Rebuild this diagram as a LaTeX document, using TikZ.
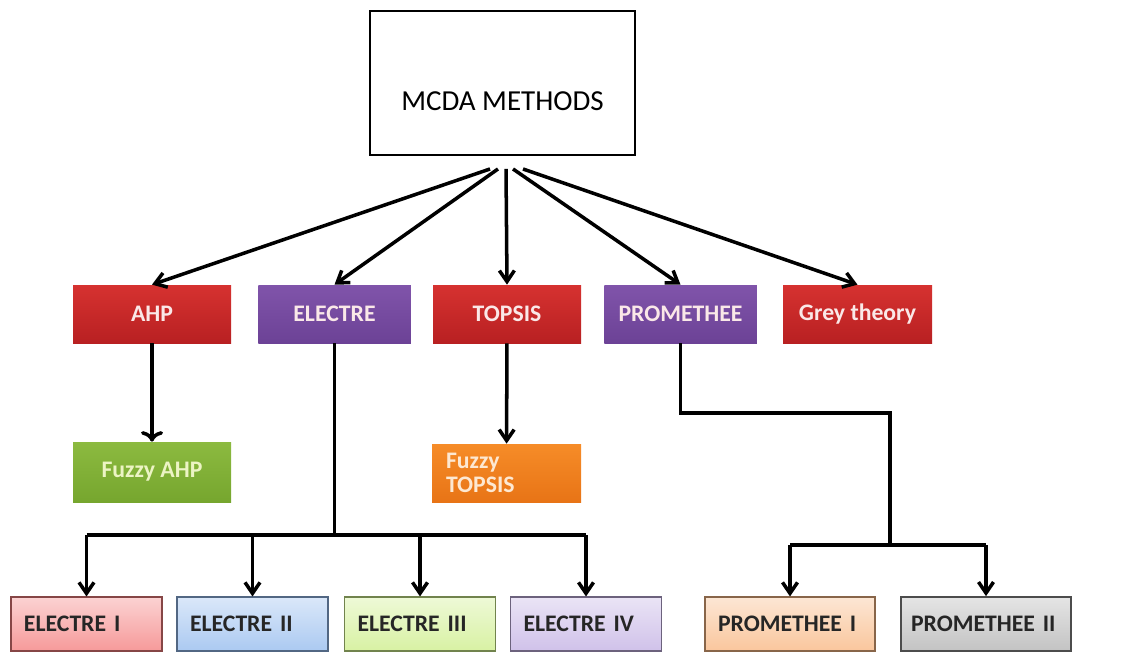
\documentclass[tikz,border=0pt]{standalone}
\usepackage{fontspec}
\setmainfont{Carlito}
\usetikzlibrary{arrows.meta}

\definecolor{redtop}{RGB}{214,50,48}
\definecolor{redbot}{RGB}{184,32,34}
\definecolor{purtop}{RGB}{128,84,170}
\definecolor{purbot}{RGB}{108,66,150}
\definecolor{greentop}{RGB}{140,186,64}
\definecolor{greenbot}{RGB}{118,166,46}
\definecolor{orgtop}{RGB}{246,140,40}
\definecolor{orgbot}{RGB}{232,116,22}
\definecolor{lighttext}{RGB}{250,232,232}
\definecolor{greentext}{RGB}{236,244,196}
\definecolor{orgtext}{RGB}{253,232,210}
\definecolor{epink}{RGB}{244,128,128}
\definecolor{eblue}{RGB}{150,188,238}
\definecolor{egreen}{RGB}{206,238,140}
\definecolor{epurple}{RGB}{196,178,228}
\definecolor{porange}{RGB}{248,184,132}
\definecolor{pgray}{RGB}{180,180,180}

\tikzset{
  arr/.style={-{Straight Barb[length=0.22cm,width=0.3cm]}, line width=2pt},
  link/.style={line width=2pt},
  mainbox/.style={rectangle, font=\bfseries\fontsize{13.5}{16}\selectfont, text=lighttext,
    minimum width=3.05cm, minimum height=1.16cm},
  redbox/.style={mainbox, top color=redtop, bottom color=redbot},
  purbox/.style={mainbox, top color=purtop, bottom color=purbot},
  leafbox/.style={rectangle, draw=#1!55!black, line width=0.6pt, minimum height=1.08cm,
    text width=2.5cm, align=left, inner xsep=0.26cm, text=black!85,
    font=\bfseries\fontsize{13.5}{16}\selectfont,
    top color=#1!35!white, bottom color=#1!80!white}
}

\begin{document}
\begin{tikzpicture}
\useasboundingbox (0,0) rectangle (22.9,-13.12);

% root
\node (mcda) at (10.05,-1.66) [rectangle, draw, line width=1.1pt, minimum width=5.3cm, minimum height=2.88cm] {};
\node (mcdatext) at (10.05,-2.02) {\fontsize{16.5}{20}\selectfont MCDA METHODS};

% methods
\node (ahp) at (3.04,-6.28) [redbox, minimum width=3.16cm] {AHP};
\node (electre) at (6.69,-6.28) [purbox] {ELECTRE};
\node (topsis) at (10.14,-6.28) [redbox, minimum width=2.96cm] {TOPSIS};
\node (prom) at (13.61,-6.28) [purbox] {PROMETHEE};
\node (grey) at (17.15,-6.28) [redbox, minimum width=2.98cm] {Grey theory};

\foreach \dx/\m in {-0.25/ahp, -0.09/electre, 0.07/topsis, 0.21/prom, 0.41/grey}
  \draw[arr] ([xshift=\dx cm, yshift=-0.26cm]mcda.south) -- (\m.north);

% fuzzy variants
\node (fahp) at (3.04,-9.44) [mainbox, minimum width=3.16cm, minimum height=1.2cm, text=greentext,
  top color=greentop, bottom color=greenbot] {Fuzzy AHP} edge[arr, <-] (ahp);
\node (ftopsis) at (10.13,-9.46) [mainbox, minimum width=2.98cm, text=orgtext,
  top color=orgtop, bottom color=orgbot, text width=2.42cm, align=left, inner xsep=0.28cm,
  font=\bfseries\fontsize{13.5}{13.5}\selectfont] {Fuzzy\\TOPSIS};
\draw[arr] (topsis) -- (ftopsis);

% electre family
\node (e1) at (1.73,-12.48) [leafbox=epink, minimum width=2.98cm] {ELECTRE I};
\node (e2) at (5.05,-12.48) [leafbox=eblue, minimum width=2.98cm] {ELECTRE II};
\node (e3) at (8.40,-12.48) [leafbox=egreen, minimum width=3cm] {ELECTRE III};
\node (e4) at (11.72,-12.48) [leafbox=epurple, minimum width=3cm] {ELECTRE IV};

\coordinate (ebar) at (0,-10.7);
\draw[link] (electre.south) -- (electre.south |- ebar);
\draw[link] (e1.north |- ebar) -- (e4.north |- ebar);
\foreach \n in {e1,e2,e3,e4}
  \draw[arr] (\n.north |- ebar) -- (\n.north);

% promethee family
\node (p1) at (15.8,-12.48) [leafbox=porange, minimum width=3.4cm, text width=2.88cm] {PROMETHEE I};
\node (p2) at (19.72,-12.48) [leafbox=pgray, draw=black!70, line width=1pt, minimum width=3.4cm,
  text width=3cm, inner xsep=0.2cm] {PROMETHEE II};

\coordinate (pturn) at (17.8,-8.26);
\coordinate (pbar) at (17.8,-10.9);
\draw[link] (prom.south) |- (pturn) -- (pbar);
\draw[link] (p1.north |- pbar) -- (p2.north |- pbar);
\foreach \n in {p1,p2}
  \draw[arr] (\n.north |- pbar) -- (\n.north);
\end{tikzpicture}
\end{document}
